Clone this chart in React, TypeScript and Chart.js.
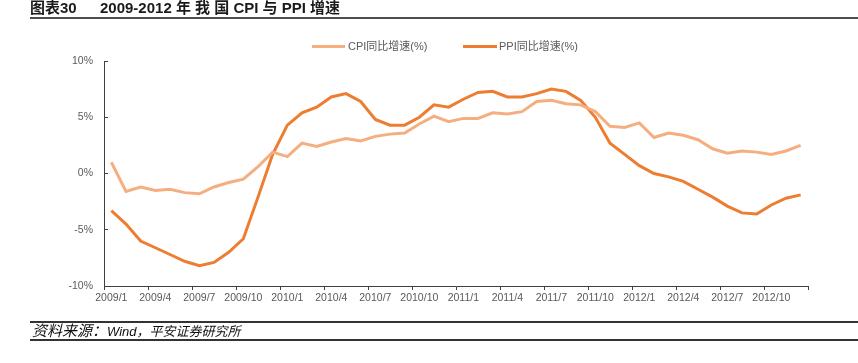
import React, { useEffect, useRef } from "react";
import { Chart, registerables } from "chart.js";

Chart.register(...registerables);

const months: string[] = [
  "2009/1", "2009/2", "2009/3", "2009/4", "2009/5", "2009/6", "2009/7", "2009/8", "2009/9", "2009/10", "2009/11", "2009/12",
  "2010/1", "2010/2", "2010/3", "2010/4", "2010/5", "2010/6", "2010/7", "2010/8", "2010/9", "2010/10", "2010/11", "2010/12",
  "2011/1", "2011/2", "2011/3", "2011/4", "2011/5", "2011/6", "2011/7", "2011/8", "2011/9", "2011/10", "2011/11", "2011/12",
  "2012/1", "2012/2", "2012/3", "2012/4", "2012/5", "2012/6", "2012/7", "2012/8", "2012/9", "2012/10", "2012/11", "2012/12",
];

const cpi: number[] = [
  1.0, -1.6, -1.2, -1.5, -1.4, -1.7, -1.8, -1.2, -0.8, -0.5, 0.6, 1.9,
  1.5, 2.7, 2.4, 2.8, 3.1, 2.9, 3.3, 3.5, 3.6, 4.4, 5.1, 4.6,
  4.9, 4.9, 5.4, 5.3, 5.5, 6.4, 6.5, 6.2, 6.1, 5.5, 4.2, 4.1,
  4.5, 3.2, 3.6, 3.4, 3.0, 2.2, 1.8, 2.0, 1.9, 1.7, 2.0, 2.5,
];

const ppi: number[] = [
  -3.3, -4.5, -6.0, -6.6, -7.2, -7.8, -8.2, -7.9, -7.0, -5.8, -2.1, 1.7,
  4.3, 5.4, 5.9, 6.8, 7.1, 6.4, 4.8, 4.3, 4.3, 5.0, 6.1, 5.9,
  6.6, 7.2, 7.3, 6.8, 6.8, 7.1, 7.5, 7.3, 6.5, 5.0, 2.7, 1.7,
  0.7, 0.0, -0.3, -0.7, -1.4, -2.1, -2.9, -3.5, -3.6, -2.8, -2.2, -1.9,
];

const seriesNames: string[] = ["CPI同比增速(%)", "PPI同比增速(%)"];
const yTicks: number[] = [-10, -5, 0, 5, 10];

const CPI_COLOR = "#F5AE7F";
const PPI_COLOR = "#ED7D31";
const AXIS_COLOR = "#404040";
const LABEL_COLOR = "#595959";
const FONT = '"Liberation Sans", Arial, "Noto Sans CJK SC", sans-serif';

export default function App() {
  const canvasRef = useRef<HTMLCanvasElement | null>(null);

  useEffect(() => {
    if (!canvasRef.current) return;
    const chart = new Chart(canvasRef.current, {
      type: "line",
      data: {
        labels: months,
        datasets: [
          {
            label: seriesNames[0],
            data: cpi,
            borderColor: CPI_COLOR,
            backgroundColor: CPI_COLOR,
            borderWidth: 3,
            pointRadius: 0,
            tension: 0,
            fill: false,
          },
          {
            label: seriesNames[1],
            data: ppi,
            borderColor: PPI_COLOR,
            backgroundColor: PPI_COLOR,
            borderWidth: 3,
            pointRadius: 0,
            tension: 0,
            fill: false,
          },
        ],
      },
      options: {
        animation: false,
        responsive: false,
        maintainAspectRatio: false,
        layout: { padding: { left: 60, right: 50, top: 61, bottom: 57 } },
        plugins: {
          legend: { display: false },
          tooltip: { enabled: false },
        },
        scales: {
          x: {
            type: "category",
            offset: true,
            grid: {
              offset: true,
              drawOnChartArea: false,
              drawTicks: true,
              tickLength: 4,
              lineWidth: 1,
              color: (ctx: any) =>
                ctx.type !== "tick" || ctx.index % 3 === 0 ? AXIS_COLOR : "rgba(0,0,0,0)",
            },
            border: { display: true, color: AXIS_COLOR, width: 1 },
            ticks: {
              autoSkip: false,
              maxRotation: 0,
              minRotation: 0,
              padding: 2,
              color: LABEL_COLOR,
              font: { family: FONT, size: 10.5 },
              callback: (_v: any, i: number) => (i % 3 === 0 ? months[i] : ""),
            },
            afterFit: (s: any) => {
              s.height = 20;
            },
          },
          y: {
            min: yTicks[0],
            max: yTicks[yTicks.length - 1],
            afterBuildTicks: (s: any) => {
              s.ticks = yTicks.map((v) => ({ value: v }));
            },
            grid: {
              drawOnChartArea: false,
              drawTicks: true,
              tickLength: -4,
              color: AXIS_COLOR,
            },
            border: { display: true, color: AXIS_COLOR, width: 1 },
            ticks: {
              padding: 15,
              color: LABEL_COLOR,
              font: { family: FONT, size: 10.5 },
              callback: (v: any) => v + "%",
            },
            afterFit: (s: any) => {
              s.width = 44;
            },
          },
        },
      },
    });
    return () => chart.destroy();
  }, []);

  const textBase: React.CSSProperties = {
    position: "absolute",
    whiteSpace: "nowrap",
    fontFamily: FONT,
  };

  return (
    <div
      style={{
        position: "fixed",
        left: 0,
        top: 0,
        width: 858,
        height: 363,
        background: "#ffffff",
        overflow: "hidden",
      }}
    >
      <canvas ref={canvasRef} width={858} height={363} style={{ position: "absolute", left: 0, top: 0, width: 858, height: 363 }} />

      {/* Title */}
      <div style={{ ...textBase, left: 30, top: 0, fontSize: 15, lineHeight: "16px", fontWeight: "bold", color: "#1a1a1a" }}>
        图表30
      </div>
      <div style={{ ...textBase, left: 100, top: 0, fontSize: 15, lineHeight: "16px", fontWeight: "bold", color: "#1a1a1a" }}>
        2009-2012 年 我 国 CPI 与 PPI 增速
      </div>
      <div style={{ position: "absolute", left: 30, top: 17, width: 828, height: 2, background: "#4d4d4d" }} />

      {/* Legend */}
      <div style={{ position: "absolute", left: 312, top: 45, width: 33, height: 3, background: CPI_COLOR }} />
      <div style={{ ...textBase, left: 348, top: 39, fontSize: 11, lineHeight: "14px", color: LABEL_COLOR }}>
        {seriesNames[0]}
      </div>
      <div style={{ position: "absolute", left: 463, top: 45, width: 34, height: 3, background: PPI_COLOR }} />
      <div style={{ ...textBase, left: 499, top: 39, fontSize: 11, lineHeight: "14px", color: LABEL_COLOR }}>
        {seriesNames[1]}
      </div>

      {/* Footer */}
      <div style={{ position: "absolute", left: 30, top: 321, width: 828, height: 1.5, background: "#333333" }} />
      <div style={{ ...textBase, left: 32, top: 323, fontSize: 13, lineHeight: "16px", fontStyle: "italic", color: "#111111" }}>
        <span style={{ fontSize: 15 }}>资料来源：</span>
        <span>Wind，平安证券研究所</span>
      </div>
      <div style={{ position: "absolute", left: 30, top: 339, width: 828, height: 1.5, background: "#333333" }} />
    </div>
  );
}
